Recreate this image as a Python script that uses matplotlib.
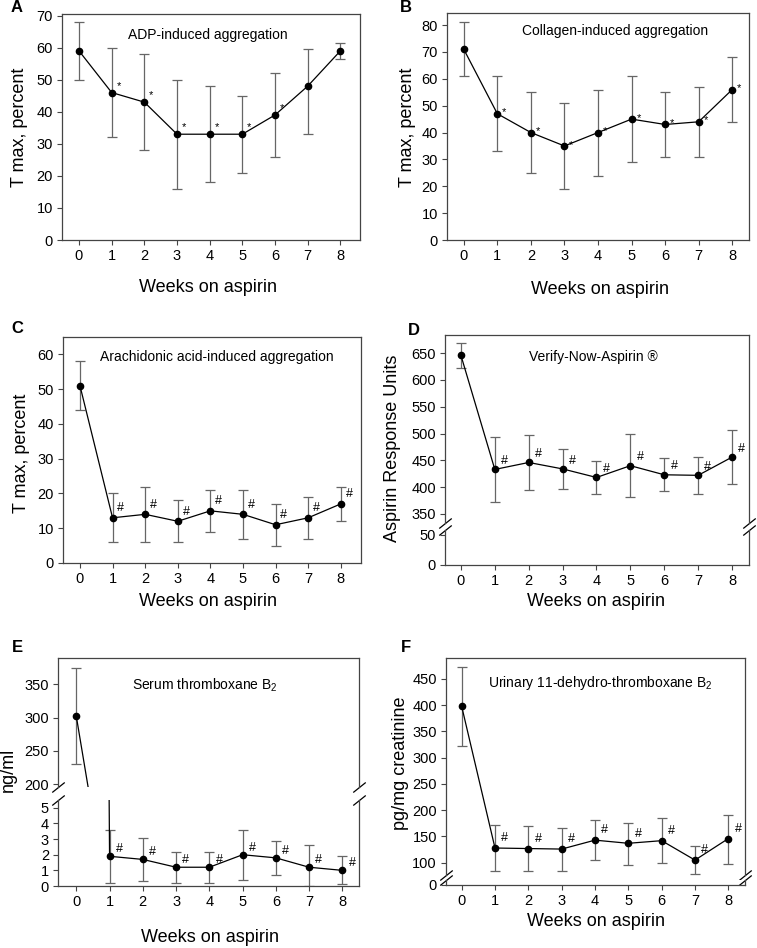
import numpy as np
import matplotlib.pyplot as plt

plt.rcParams['font.family'] = ['Liberation Sans', 'DejaVu Sans']
plt.rcParams['mathtext.fontset'] = 'custom'
plt.rcParams['mathtext.rm'] = 'Liberation Sans'

W, H = 757, 948
weeks = np.arange(9)
week_labels = [str(w) for w in weeks]

# A: ADP-induced aggregation
adp_mean = [59, 46, 43, 33, 33, 33, 39, 48, 59]
adp_lo = [50, 32, 28, 16, 18, 21, 26, 33, 56.5]
adp_hi = [68, 60, 58, 50, 48, 45, 52, 59.5, 61.5]
adp_marks = ['', '*', '*', '*', '*', '*', '*', '', '']

# B: collagen-induced aggregation
col_mean = [71, 47, 40, 35, 40, 45, 43, 44, 56]
col_lo = [61, 33, 25, 19, 24, 29, 31, 31, 44]
col_hi = [81, 61, 55, 51, 56, 61, 55, 57, 68]
col_marks = ['', '*', '*', '*', '*', '*', '*', '*', '*']

# C: arachidonic acid-induced aggregation
aa_mean = [51, 13, 14, 12, 15, 14, 11, 13, 17]
aa_lo = [44, 6, 6, 6, 9, 7, 5, 7, 12]
aa_hi = [58, 20, 22, 18, 21, 21, 17, 19, 22]
hash_marks = ['', '#', '#', '#', '#', '#', '#', '#', '#']

# D: VerifyNow aspirin
vn_mean = [646, 433, 446, 434, 418, 440, 423, 422, 456]
vn_lo = [623, 372, 394, 397, 387, 381, 392, 388, 406]
vn_hi = [669, 494, 498, 471, 449, 499, 454, 456, 506]

# E: serum thromboxane B2
stx_mean = [302, 1.9, 1.7, 1.2, 1.2, 2.0, 1.8, 1.2, 1.0]
stx_lo = [230, 0.2, 0.3, 0.2, 0.2, 0.4, 0.7, 0.0, 0.1]
stx_hi = [375, 3.6, 3.1, 2.2, 2.2, 3.6, 2.9, 2.6, 1.9]

# F: urinary 11-dehydro-thromboxane B2
utx_mean = [398, 128, 127, 126, 143, 137, 142, 105, 146]
utx_lo = [323, 85, 84, 85, 105, 96, 99, 79, 98]
utx_hi = [472, 171, 170, 167, 181, 176, 185, 131, 191]

FRAME = '#444444'
ERR = '#666666'


def px_axes(fig, l, t, r, b):
    return fig.add_axes([l / W, 1 - b / H, (r - l) / W, (b - t) / H])


def style(ax, xlim):
    for s in ax.spines.values():
        s.set_color(FRAME)
        s.set_linewidth(0.9)
    ax.set_xlim(*xlim)
    ax.set_xticks(weeks)
    ax.set_xticklabels(week_labels)
    ax.tick_params(direction='out', length=3.5, width=0.8, color=FRAME,
                   labelsize=10.5, top=False, right=False, pad=3)


def draw(ax, mean, lo, hi, marks, off, fs):
    mean = np.array(mean, dtype=float)
    yerr = [mean - np.array(lo), np.array(hi) - mean]
    ax.errorbar(weeks, mean, yerr=yerr, fmt='none', ecolor=ERR, elinewidth=0.9,
                capsize=3.5, capthick=0.9, zorder=2)
    ax.plot(weeks, mean, color='black', lw=0.9, marker='o', ms=4.5, zorder=3)
    for x, y, m in zip(weeks, mean, marks):
        if m:
            ax.annotate(m, (x, y), xytext=off, textcoords='offset points',
                        fontsize=fs, ha='center', va='center')


def slashes(ax, ypos):
    kw = dict(marker=[(-1, -0.8), (1, 0.8)], markersize=9, linestyle='none',
              color='black', mec='black', mew=0.9, clip_on=False,
              transform=ax.transAxes)
    ax.plot([0, 1], [ypos, ypos], **kw)


def ftext(x, y, s, **kw):
    fig.text(x / W, 1 - y / H, s, **kw)


fig = plt.figure(figsize=(W / 100, H / 100), dpi=100)

lab = dict(fontsize=13, ha='center', va='center')
title = dict(fontsize=10, ha='center', va='center')
letter = dict(fontsize=12, fontweight='bold', ha='center', va='center')

# A
ax = px_axes(fig, 62, 14, 360, 240)
draw(ax, adp_mean, adp_lo, adp_hi, adp_marks, (5, 5), 8)
style(ax, (-0.52, 8.6))
ax.set_ylim(0, 70.5)
ax.set_yticks(range(0, 71, 10))
ftext(208, 35, 'ADP-induced aggregation', **title)
ftext(208, 287, 'Weeks on aspirin', **lab)
ftext(20, 127, 'T max, percent', rotation=90, **lab)
ftext(17, 8, 'A', **letter)

# B
ax = px_axes(fig, 447, 13, 749, 240)
draw(ax, col_mean, col_lo, col_hi, col_marks, (5, 1), 8)
style(ax, (-0.5, 8.5))
ax.set_ylim(0, 84.5)
ax.set_yticks(range(0, 81, 10))
ftext(615, 31, 'Collagen-induced aggregation', **title)
ftext(600, 289, 'Weeks on aspirin', **lab)
ftext(408, 127, 'T max, percent', rotation=90, **lab)
ftext(406, 7, 'B', **letter)

# C
ax = px_axes(fig, 63, 337, 361, 563)
draw(ax, aa_mean, aa_lo, aa_hi, hash_marks, (6, 7), 9)
style(ax, (-0.52, 8.62))
ax.set_ylim(0, 65)
ax.set_yticks(range(0, 61, 10))
ftext(217, 357, 'Arachidonic acid-induced aggregation', **title)
ftext(208, 602, 'Weeks on aspirin', **lab)
ftext(22, 453, 'T max, percent', rotation=90, **lab)
ftext(17, 329, 'C', **letter)

# D (broken axis)
up = px_axes(fig, 445, 335, 749, 523)
lo = px_axes(fig, 445, 530, 749, 565)
for a in (up, lo):
    draw(a, vn_mean, vn_lo, vn_hi, hash_marks, (7, 6), 9)
    style(a, (-0.47, 8.5))
up.set_ylim(333, 684)
up.set_yticks(range(350, 651, 50))
up.spines['bottom'].set_visible(False)
up.tick_params(axis='x', bottom=False, labelbottom=False)
lo.set_ylim(0, 58)
lo.set_yticks([0, 50])
lo.spines['top'].set_visible(False)
slashes(up, 0)
slashes(lo, 1)
ftext(593, 357, 'Verify-Now-Aspirin \u00ae', **title)
ftext(596, 602, 'Weeks on aspirin', **lab)
ftext(393, 448, 'Aspirin Response Units', rotation=90, **lab)
ftext(414, 330, 'D', **letter)

# E (broken axis)
up = px_axes(fig, 58, 658, 359, 787)
lo = px_axes(fig, 58, 800, 359, 886)
for a in (up, lo):
    draw(a, stx_mean, stx_lo, stx_hi, hash_marks, (7, 5), 9)
    style(a, (-0.55, 8.5))
up.set_ylim(195.5, 389.6)
up.set_yticks(range(200, 351, 50))
up.spines['bottom'].set_visible(False)
up.tick_params(axis='x', bottom=False, labelbottom=False)
lo.set_ylim(0, 5.5)
lo.set_yticks(range(0, 6))
lo.spines['top'].set_visible(False)
slashes(up, 0)
slashes(lo, 1)
ftext(205, 685, 'Serum thromboxane B$_\\mathregular{2}$', **title)
ftext(210, 938, 'Weeks on aspirin', **lab)
ftext(8, 770, 'ng/ml', rotation=90, **lab)
ftext(17, 648, 'E', **letter)

# F (broken axis near zero)
up = px_axes(fig, 446, 658, 745, 875)
lo = px_axes(fig, 446, 880, 745, 885)
for a in (up, lo):
    draw(a, utx_mean, utx_lo, utx_hi, hash_marks, (7, 7), 9)
    style(a, (-0.47, 8.5))
up.set_ylim(76.6, 490)
up.set_yticks(range(100, 451, 50))
up.spines['bottom'].set_visible(False)
up.tick_params(axis='x', bottom=False, labelbottom=False)
lo.set_ylim(0, 10)
lo.set_yticks([0])
lo.spines['top'].set_visible(False)
slashes(up, 0)
slashes(lo, 1)
ftext(600, 683, 'Urinary 11-dehydro-thromboxane B$_\\mathregular{2}$', **title)
ftext(596, 922, 'Weeks on aspirin', **lab)
ftext(400, 763, 'pg/mg creatinine', rotation=90, **lab)
ftext(406, 648, 'F', **letter)

fig.savefig('out.png', dpi=100)
